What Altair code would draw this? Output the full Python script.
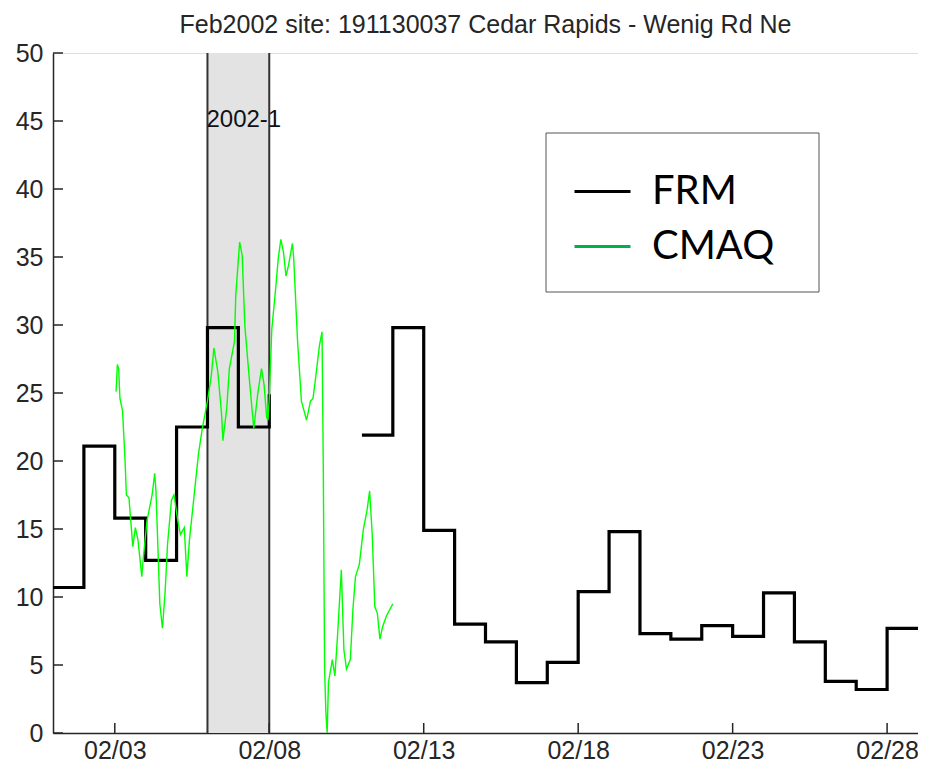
import altair as alt
import pandas as pd

title_text = "Feb2002 site: 191130037 Cedar Rapids - Wenig Rd Ne"

# FRM daily values, day of February (day 29 = Mar 1, end of last step)
frm_day = list(range(1, 30))
frm_value = [10.7, 21.1, 15.8, 12.7, 22.5, 29.8, 22.5, 24.9, None, None,
             21.9, 29.8, 14.9, 8.0, 6.7, 3.7, 5.2, 10.4, 14.8, 7.3,
             6.9, 7.9, 7.1, 10.3, 6.7, 3.8, 3.2, 7.7, 7.7]

# CMAQ hourly values, hours since 2002-02-01 00:00
cmaq_hour = [49, 50, 51, 52, 54, 56, 57, 59, 62, 64,
             66, 69, 70, 73, 77, 79, 80, 83, 85, 87,
             89, 92, 94, 97, 99, 102, 104, 106, 110, 113,
             116, 120, 123, 125, 128, 131, 132, 135, 137, 141,
             142, 145, 147, 149, 152, 155, 156, 159, 162, 164,
             166, 167, 168, 170, 173, 175, 177, 179, 181, 183,
             186, 187, 190, 193, 195, 197, 200, 202, 204, 207,
             209, 210, 211, 212, 213, 214, 217, 219, 221, 224,
             226, 228, 231, 233, 235, 238, 241, 244, 246, 248,
             250, 252, 254, 256, 259, 264]
cmaq_value = [25.1, 27.1, 26.8, 24.6, 23.7, 20.0, 17.5, 17.3, 13.7, 15.1,
              14.2, 11.5, 12.7, 15.6, 17.5, 19.1, 17.8, 9.5, 7.7, 10.2,
              13.9, 17.1, 17.5, 15.6, 14.6, 15.1, 11.5, 14.2, 17.8, 20.5,
              22.4, 24.4, 26.3, 28.3, 26.6, 23.4, 21.5, 23.9, 26.8, 28.8,
              32.2, 36.1, 35.1, 30.0, 26.6, 23.4, 22.4, 24.9, 26.8, 25.6,
              23.2, 23.0, 24.6, 29.7, 32.7, 34.9, 36.3, 35.4, 33.6, 34.4,
              36.0, 34.9, 28.8, 24.4, 23.7, 23.0, 24.4, 24.6, 26.1, 28.5,
              29.5, 19.3, 4.7, 1.5, 0.0, 3.7, 5.4, 4.2, 7.1, 12.0,
              6.1, 4.7, 5.4, 9.1, 11.5, 12.4, 14.9, 16.4, 17.8, 14.6,
              9.3, 8.8, 6.9, 7.8, 8.6, 9.5]

# highlighted period (days of February)
period_start_day = [6]
period_end_day = [8]
period_label = ["2002-1"]
period_label_y = [45.1]

tick_day = [3, 8, 13, 18, 23, 28]
tick_label = ["02/03", "02/08", "02/13", "02/18", "02/23", "02/28"]
y_tick = [0, 5, 10, 15, 20, 25, 30, 35, 40, 45, 50]

series_names = ["FRM", "CMAQ"]
series_colors = ["#000000", "#00b050"]

W, H = 865, 680

# ---------------------------------------------------------------- tables
frm = pd.DataFrame({"x": [d - 1 for d in frm_day], "y": frm_value})
frm["seg"] = frm["y"].isna().cumsum()
frm = frm.dropna()

cmaq = pd.DataFrame({"x": [h / 24 for h in cmaq_hour], "y": cmaq_value})

period = pd.DataFrame({"x": [d - 1 for d in period_start_day],
                       "x2": [d - 1 for d in period_end_day],
                       "label": period_label, "ly": period_label_y})
borders = pd.DataFrame({"x": [d - 1 for d in period_start_day + period_end_day]})
ticks_x = pd.DataFrame({"x": [d - 1 for d in tick_day]})
ticks_y = pd.DataFrame({"y": y_tick})
legend_df = pd.DataFrame({"series": series_names, "x": [0.0, 0.0], "y": [None, None]})
frame_df = pd.DataFrame({"k": [0]})

label_expr = " : ".join(
    f"datum.value == {d - 1} ? '{l}'" for d, l in zip(tick_day, tick_label)
) + " : ''"

FONT = "Liberation Sans"
AX = "#262626"

xscale = alt.Scale(domain=[0, 28], nice=False, zero=False)
yscale = alt.Scale(domain=[0, 50], nice=False)
xaxis = alt.Axis(values=[d - 1 for d in tick_day], labelExpr=label_expr, ticks=False,
                 grid=False, domainColor=AX, domainWidth=1.5, labelFont=FONT,
                 labelFontSize=25, labelColor=AX, labelPadding=5, labelFlush=False)
yaxis = alt.Axis(values=y_tick, ticks=False, grid=False, domainColor=AX, domainWidth=1.5,
                 labelFont=FONT, labelFontSize=25, labelColor=AX, labelPadding=10)


def X(field="x"):
    return alt.X(f"{field}:Q", scale=xscale, axis=xaxis, title=None)


def Y(field="y"):
    return alt.Y(f"{field}:Q", scale=yscale, axis=yaxis, title=None)


shade = alt.Chart(period).mark_rect(fill="#e3e3e3").encode(
    x=X(), x2="x2:Q", y=alt.datum(0, scale=yscale), y2=alt.datum(50)
)
border = alt.Chart(borders).mark_rule(color="#333333", strokeWidth=2).encode(
    x=X(), y=alt.datum(0, scale=yscale), y2=alt.datum(50)
)
xt = alt.Chart(ticks_x).mark_rule(color=AX, strokeWidth=1.5).encode(
    x=X(), y=alt.value(H), y2=alt.value(H - 10)
)
yt = alt.Chart(ticks_y).mark_rule(color=AX, strokeWidth=1.5).encode(
    y=Y(), x=alt.value(0), x2=alt.value(10)
)
frm_line = alt.Chart(frm).mark_line(interpolate="step-after", color="black",
                                     strokeWidth=3.2).encode(
    x=X(), y=Y(), detail="seg:N"
)
cmaq_line = alt.Chart(cmaq).mark_line(color="#00ff00", strokeWidth=1.4).encode(
    x=X(), y=Y()
)
label = alt.Chart(period).mark_text(align="left", baseline="middle", font=FONT,
                                    fontSize=24, color="#111111", dx=-1).encode(
    x=X(), y=Y("ly"), text="label:N"
)
# legend frame
frame = alt.Chart(frame_df).mark_rect(fill="white", stroke="#555555", strokeWidth=1).encode(
    x=alt.value(493), x2=alt.value(766), y=alt.value(80), y2=alt.value(239)
)
legend_layer = alt.Chart(legend_df).mark_line(strokeWidth=3).encode(
    x=X(), y=Y(),
    stroke=alt.Stroke("series:N",
                      scale=alt.Scale(domain=series_names, range=series_colors),
                      legend=alt.Legend(orient="none", legendX=493, legendY=82,
                                        title=None, symbolType="stroke",
                                        symbolSize=3136, symbolStrokeWidth=3,
                                        labelFont="Lato", labelFontSize=40,
                                        labelColor="black", labelOffset=20,
                                        rowPadding=5, padding=27))
)

chart = alt.layer(shade, border, frm_line, cmaq_line, xt, yt, label, frame,
                  legend_layer).properties(
    width=W, height=H,
    padding={"left": 45, "top": 45, "right": 0, "bottom": 30},
    autosize=alt.AutoSizeParams(type="none"),
    title=alt.TitleParams(title_text, font=FONT, fontSize=25, fontWeight="normal",
                          color=AX, anchor="middle", offset=3),
).configure_view(stroke=None).configure(background="white")

chart.save("out.html", embed_options={"renderer": "svg", "actions": False})
